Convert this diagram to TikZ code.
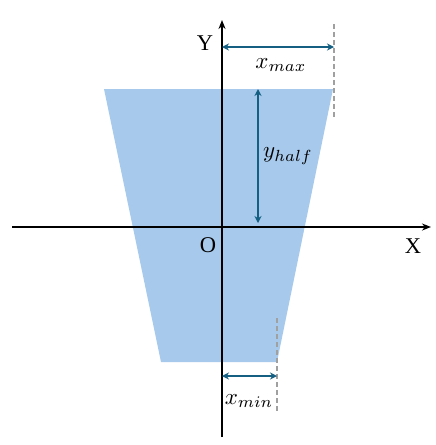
\documentclass[tikz,border=0pt]{standalone}
\usepackage{fontspec}
\setmainfont{Liberation Serif}
\usetikzlibrary{arrows.meta}

\definecolor{shapefill}{RGB}{166,201,236}
\definecolor{dimline}{RGB}{21,96,130}
\definecolor{guidegray}{RGB}{160,160,160}

\tikzset{
  axis/.style={line width=2pt, -{Stealth[length=9pt,width=7pt]}},
  dimension/.style={dimline, line width=2pt, {Stealth[length=7pt,width=7pt]}-{Stealth[length=7pt,width=7pt]}},
  guide/.style={guidegray, line width=1.4pt, dash pattern=on 5pt off 3pt},
  axis label/.style={scale=2.25, inner sep=0pt},
  dim label/.style={scale=2.3, inner sep=0pt},
}

\begin{document}
\begin{tikzpicture}[x=1pt, y=-1pt]
  \useasboundingbox (0,0) rectangle (436,445);

  % ================================================================================================
  % trapezoid
  % ================================================================================================
  \fill [shapefill] (104,89) -- (333,89) -- (277,362) -- (161,362) -- cycle;

  % ================================================================================================
  % axes
  % ================================================================================================
  \coordinate (x-start) at (12,227);
  \coordinate (x-end)   at (431,227);
  \coordinate (y-start) at (222,437);
  \coordinate (y-end)   at (222,20);
  \coordinate (origin)  at (222,227);

  \draw [axis] (x-start) -- (x-end);
  \draw [axis] (y-start) -- (y-end);

  \node [axis label] (label-x) at (413,246) {X};
  \node [axis label] (label-y) at (205,43) {Y};
  \node [axis label] (label-o) at (208,245) {O};

  % ================================================================================================
  % guides
  % ================================================================================================
  \foreach \n/\x/\a/\b in {max/334/24/118, min/277/318/413} {
    \coordinate (guide-\n-top) at (\x,\a);
    \coordinate (guide-\n-bot) at (\x,\b);
    \draw [guide] (guide-\n-top) -- (guide-\n-bot);
  }

  % ================================================================================================
  % dimensions
  % ================================================================================================
  \coordinate (xmax-a) at (222,47);
  \coordinate (xmax-b) at (334,47);
  \coordinate (xmin-a) at (222,376);
  \coordinate (xmin-b) at (277,376);
  \coordinate (yhalf-a) at (258,89);
  \coordinate (yhalf-b) at (258,223);

  \draw [dimension] (xmax-a) -- (xmax-b);
  \draw [dimension] (xmin-a) -- (xmin-b);
  \draw [dimension] (yhalf-a) -- (yhalf-b);

  \node [dim label] (label-xmax)  at (281,65)  {$x_{max}$};
  \node [dim label] (label-yhalf) at (288,156) {$y_{half}$};
  \node [dim label] (label-xmin)  at (249,401) {$x_{min}$};

\end{tikzpicture}
\end{document}
